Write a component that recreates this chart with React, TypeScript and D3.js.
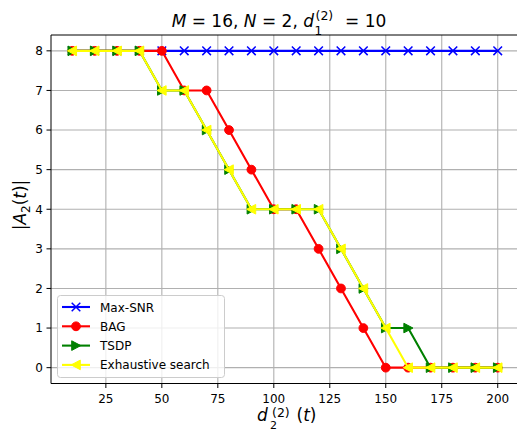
import React from "react";
import * as d3 from "d3";

const xs = [10, 20, 30, 40, 50, 60, 70, 80, 90, 100, 110, 120, 130, 140, 150, 160, 170, 180, 190, 200];
const maxSNR = [8, 8, 8, 8, 8, 8, 8, 8, 8, 8, 8, 8, 8, 8, 8, 8, 8, 8, 8, 8];
const bag = [8, 8, 8, 8, 8, 7, 7, 6, 5, 4, 4, 3, 2, 1, 0, 0, 0, 0, 0, 0];
const tsdp = [8, 8, 8, 8, 7, 7, 6, 5, 4, 4, 4, 4, 3, 2, 1, 1, 0, 0, 0, 0];
const exhaustive = [8, 8, 8, 8, 7, 7, 6, 5, 4, 4, 4, 4, 3, 2, 1, 0, 0, 0, 0, 0];
const xTicks = [25, 50, 75, 100, 125, 150, 175, 200];
const yTicks = [0, 1, 2, 3, 4, 5, 6, 7, 8];
const seriesNames = ["Max-SNR", "BAG", "TSDP", "Exhaustive search"];

const W = 517, H = 432;
const L = 51, R = 519, T = 35, B = 383.5;

export default function App() {
  const x = d3.scaleLinear().domain([0.5, 209.5]).range([L, R]);
  const y = d3.scaleLinear().domain([-0.4, 8.4]).range([B, T]);
  const line = d3.line<[number, number]>().x(d => x(d[0])).y(d => y(d[1]));
  const series = [
    { name: seriesNames[0], vals: maxSNR, color: "blue", marker: "x" },
    { name: seriesNames[1], vals: bag, color: "red", marker: "o" },
    { name: seriesNames[2], vals: tsdp, color: "green", marker: ">" },
    { name: seriesNames[3], vals: exhaustive, color: "yellow", marker: "<" },
  ];
  const marker = (m: string, cx: number, cy: number, color: string, key: any) => {
    const s = 4.3;
    if (m === "x") {
      return <path key={key} d={`M${cx - s},${cy - s}L${cx + s},${cy + s}M${cx - s},${cy + s}L${cx + s},${cy - s}`} stroke={color} strokeWidth={1.5} fill="none" />;
    }
    if (m === "o") return <circle key={key} cx={cx} cy={cy} r={4.4} fill={color} stroke={color} strokeWidth={1} />;
    if (m === ">") return <path key={key} d={`M${cx + s + 0.5},${cy}L${cx - s},${cy - s - 0.5}L${cx - s},${cy + s + 0.5}Z`} fill={color} stroke={color} strokeWidth={1} />;
    return <path key={key} d={`M${cx - s - 0.5},${cy}L${cx + s},${cy - s - 0.5}L${cx + s},${cy + s + 0.5}Z`} fill={color} stroke={color} strokeWidth={1} />;
  };
  const font = "DejaVu Sans, sans-serif";
  return (
    <svg width={W} height={H} style={{ position: "absolute", left: 0, top: 0 }} fontFamily={font}>
      <rect width={W} height={H} fill="white" />
      <defs>
        <clipPath id="clip"><rect x={L} y={T - 10} width={R - L} height={B - T + 20} /></clipPath>
      </defs>
      {xTicks.map(t => <line key={"gx" + t} x1={x(t)} x2={x(t)} y1={T} y2={B} stroke="#b0b0b0" strokeWidth={1.1} />)}
      {yTicks.map(t => <line key={"gy" + t} x1={L} x2={R} y1={y(t)} y2={y(t)} stroke="#b0b0b0" strokeWidth={1.1} />)}
      <g clipPath="url(#clip)">
        {series.map(s => (
          <g key={s.name}>
            <path d={line(xs.map((v, i) => [v, s.vals[i]]) as [number, number][]) || ""} stroke={s.color} strokeWidth={2.1} fill="none" />
            {xs.map((v, i) => marker(s.marker, x(v), y(s.vals[i]), s.color, i))}
          </g>
        ))}
      </g>
      <line x1={L} x2={L} y1={T} y2={B} stroke="black" strokeWidth={1} />
      <line x1={L} x2={R} y1={B} y2={B} stroke="black" strokeWidth={1} />
      <line x1={L} x2={R} y1={T} y2={T} stroke="black" strokeWidth={1} />
      {xTicks.map(t => (
        <g key={"tx" + t}>
          <line x1={x(t)} x2={x(t)} y1={B} y2={B + 4.5} stroke="black" />
          <text x={x(t)} y={B + 19} textAnchor="middle" fontSize={12}>{t}</text>
        </g>
      ))}
      {yTicks.map(t => (
        <g key={"ty" + t}>
          <line x1={L - 4.5} x2={L} y1={y(t)} y2={y(t)} stroke="black" />
          <text x={L - 8} y={y(t) + 4.3} textAnchor="end" fontSize={12}>{t}</text>
        </g>
      ))}
      <text x={314} y={27} fontSize={17} textAnchor="end">
        <tspan fontStyle="italic">M</tspan>
        <tspan> = 16, </tspan>
        <tspan fontStyle="italic">N</tspan>
        <tspan> = 2, </tspan>
        <tspan fontStyle="italic">d</tspan>
      </text>
      <text x={315.5} y={20} fontSize={12.5}>(2)</text>
      <text x={314.5} y={34.5} fontSize={12}>1</text>
      <text x={345} y={27} fontSize={17}>= 10</text>
      <text x={257} y={421} fontSize={17} fontStyle="italic">d</text>
      <text x={272} y={416.5} fontSize={12.5}>(2)</text>
      <text x={270} y={428.5} fontSize={11}>2</text>
      <text x={296.5} y={421} fontSize={17}>
        <tspan>(</tspan>
        <tspan fontStyle="italic">t</tspan>
        <tspan>)</tspan>
      </text>
      <text transform={`translate(26,${205}) rotate(-90)`} textAnchor="middle" fontSize={17}>
        <tspan>|</tspan>
        <tspan fontStyle="italic">A</tspan>
        <tspan fontSize={12} dy={3.5}>2</tspan>
        <tspan dy={-3.5}>(</tspan>
        <tspan fontStyle="italic">t</tspan>
        <tspan>)|</tspan>
      </text>
      <g>
        <rect x={57.5} y={295.5} width={167} height={82} rx={3} fill="white" fillOpacity={0.8} stroke="#cccccc" />
        {series.map((s, i) => {
          const cy = 307 + i * 19.3;
          return (
            <g key={"lg" + i}>
              <line x1={62} x2={90} y1={cy} y2={cy} stroke={s.color} strokeWidth={2.1} />
              {marker(s.marker, 76, cy, s.color, "m")}
              <text x={100} y={cy + 4.5} fontSize={12}>{s.name}</text>
            </g>
          );
        })}
      </g>
    </svg>
  );
}
